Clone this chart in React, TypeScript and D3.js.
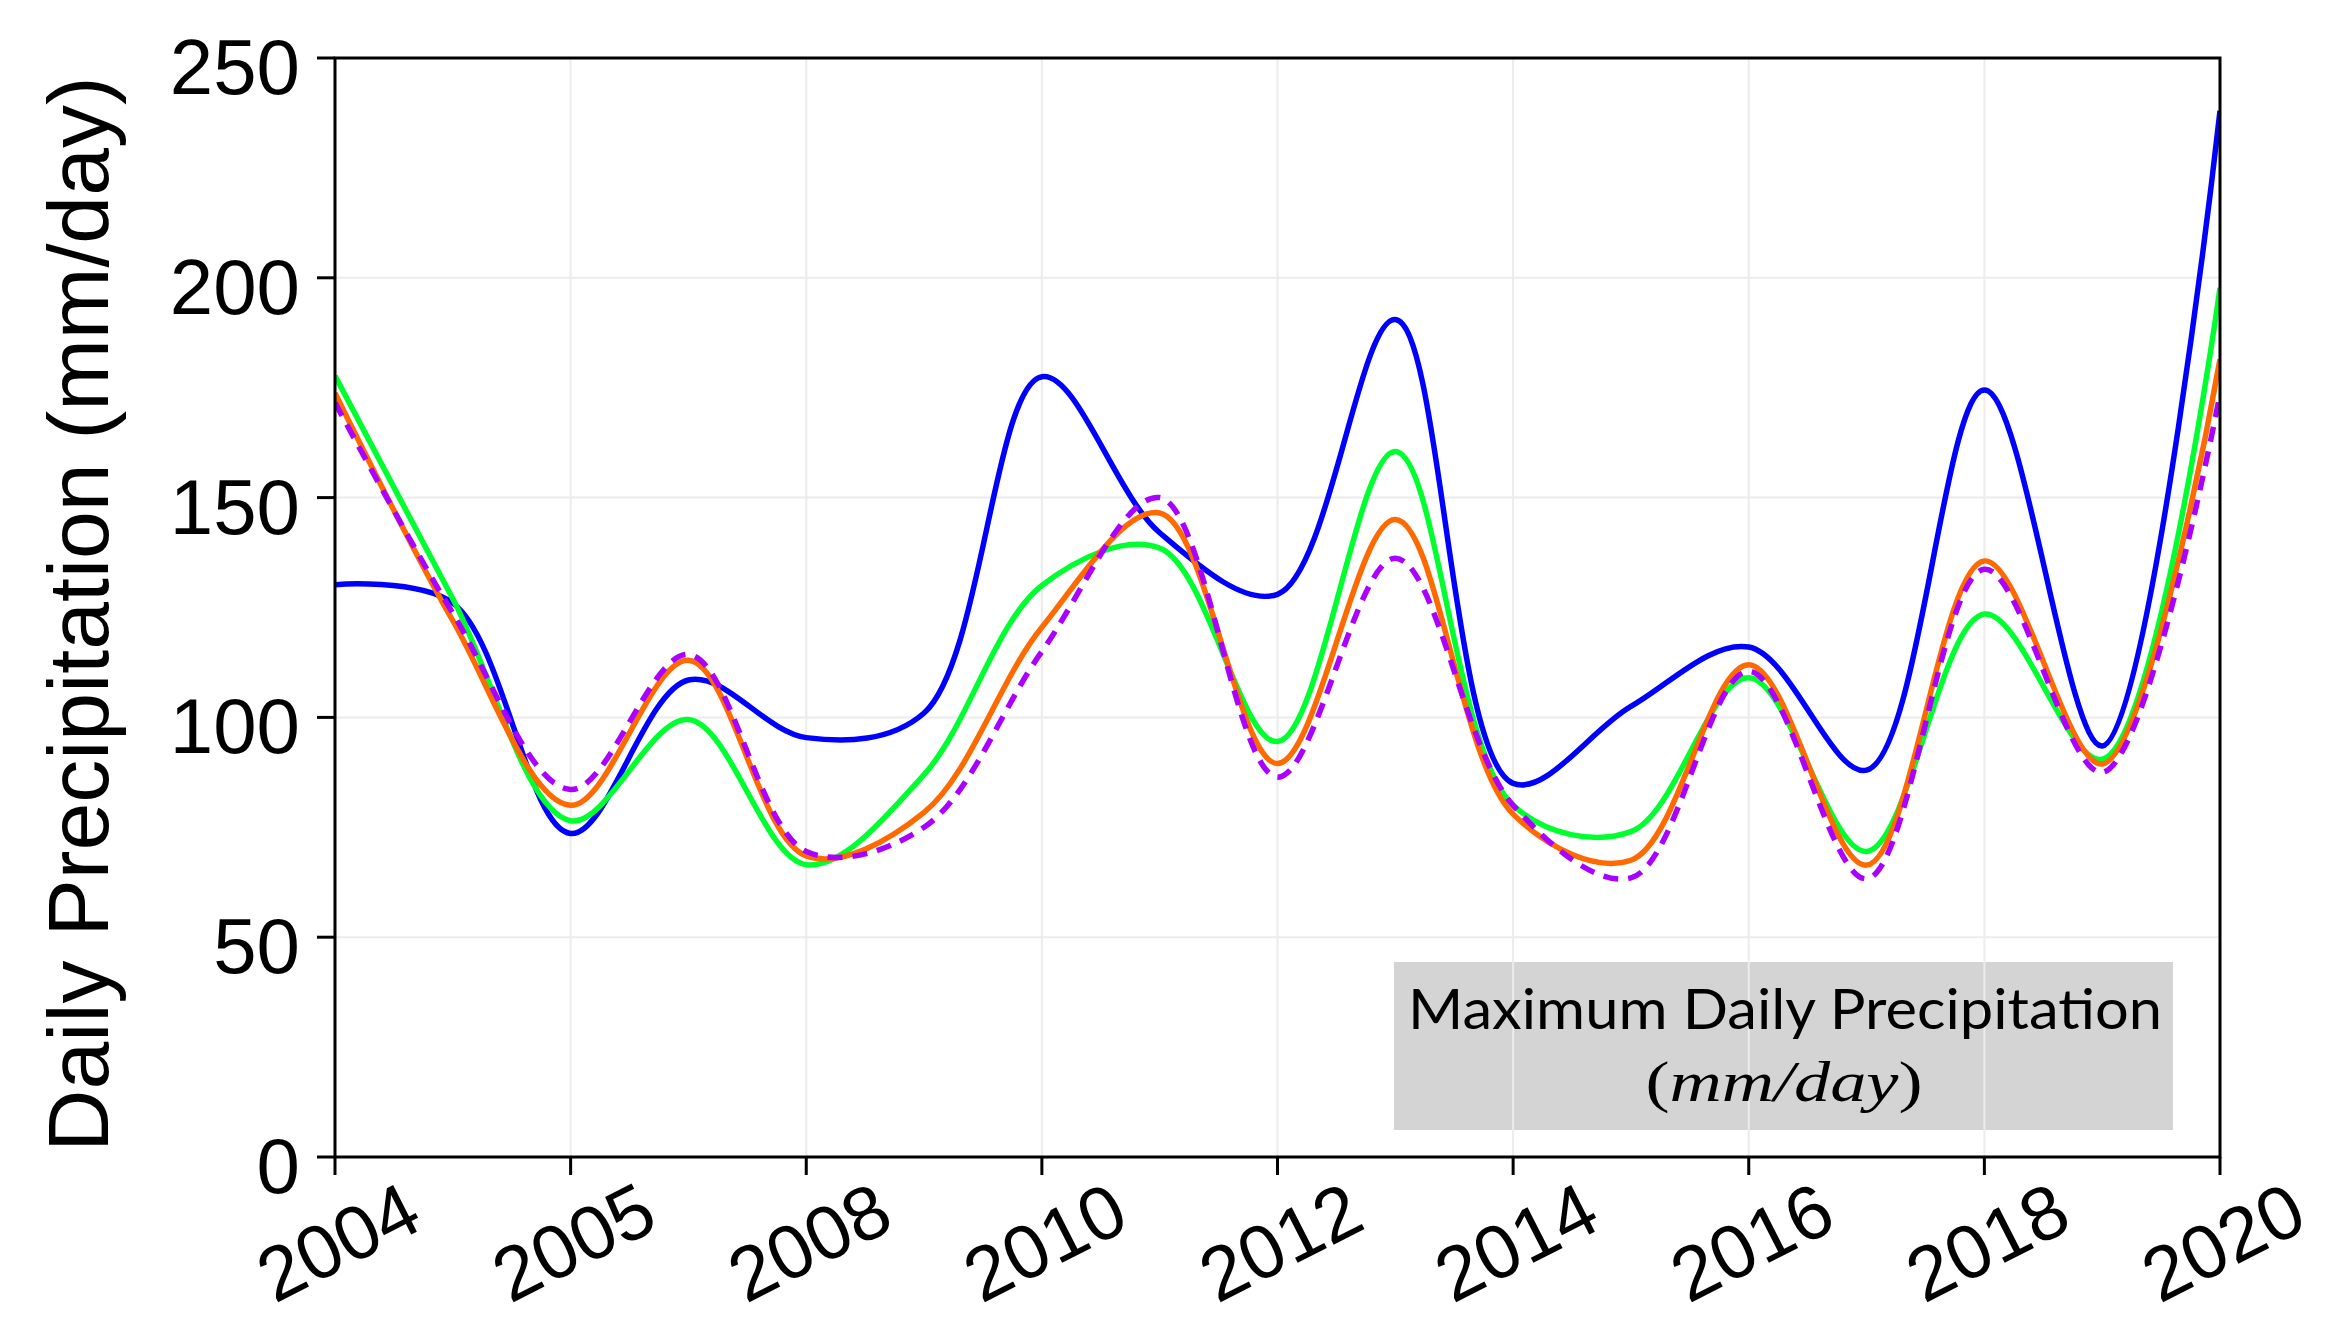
import React from "react";
import * as d3 from "d3";

// ---- data ----
const pointIndex = [0, 1, 2, 3, 4, 5, 6, 7, 8, 9, 10, 11, 12, 13, 14, 15, 16];
const tickIndex = [0, 2, 4, 6, 8, 10, 12, 14, 16];
const tickLabels = ["2004", "2005", "2008", "2010", "2012", "2014", "2016", "2018", "2020"];
const yTicks = [0, 50, 100, 150, 200, 250];

const blueSeries = [130.2, 126, 73.6, 108.5, 95.4, 101, 177.5, 142, 128, 190.5, 85, 102.5, 116, 88, 174.5, 93.5, 238];
const greenSeries = [177.7, 127, 76.5, 99.5, 66.5, 87, 130, 138.5, 94.5, 160.5, 80, 74, 109, 69.5, 123.5, 90.5, 197.7];
const orangeSeries = [173.8, 122, 80, 113, 68.5, 78.4, 120.5, 146.5, 89.5, 145, 78, 67.5, 112, 66.4, 135.6, 89.4, 181.5];
const purpleSeries = [171.6, 123.7, 83.6, 114.3, 69.5, 75, 115, 150, 86.4, 136.2, 80, 63.5, 110.5, 63.3, 133.7, 87.5, 173.5];

const series = [
  { name: "blue", values: blueSeries, color: "#0000ff", dash: null },
  { name: "green", values: greenSeries, color: "#00ff2e", dash: null },
  { name: "orange", values: orangeSeries, color: "#ff6a00", dash: null },
  { name: "purple", values: purpleSeries, color: "#aa00ff", dash: "15,10" },
];

const W = 2348;
const H = 1332;
const left = 335;
const right = 2220;
const top = 58;
const bottom = 1157;

export default function App() {
  const x = d3.scaleLinear().domain([0, 16]).range([left, right]);
  const y = d3.scaleLinear().domain([0, 250]).range([bottom, top]);
  const line = (vals: number[]) =>
    d3
      .line<number>()
      .x((_, i) => x(pointIndex[i]))
      .y((d) => y(d))
      .curve(d3.curveCatmullRom.alpha(0.5))(vals) || "";

  const font = "'Liberation Sans', Arial, sans-serif";

  return (
    <svg
      width={W}
      height={H}
      style={{ position: "absolute", left: 0, top: 0, background: "#fff" }}
    >
      <rect x={0} y={0} width={W} height={H} fill="#fff" />
      {/* annotation box */}
      <rect x={1394} y={962} width={779} height={168} fill="#d4d4d4" />
      {/* grid */}
      {yTicks.map((t) => (
        <line key={"gy" + t} x1={left} x2={right} y1={y(t)} y2={y(t)} stroke="#ececec" strokeWidth={2} />
      ))}
      {tickIndex.map((t) => (
        <line key={"gx" + t} x1={x(t)} x2={x(t)} y1={top} y2={bottom} stroke="#ececec" strokeWidth={2} />
      ))}
      {/* annotation text */}
      <text
        x={1785}
        y={1029}
        textAnchor="middle"
        fontFamily="Lato, 'Open Sans', sans-serif"
        fontSize={57}
        textLength={754}
        lengthAdjust="spacingAndGlyphs"
        fill="#000"
      >
        Maximum Daily Precipitation
      </text>
      <text
        x={1784}
        y={1101}
        textAnchor="middle"
        fontFamily="'Liberation Serif', 'DejaVu Serif', serif"
        fontSize={56}
        textLength={277}
        lengthAdjust="spacingAndGlyphs"
        fill="#000"
      >
        <tspan>(</tspan>
        <tspan fontStyle="italic">mm/day</tspan>
        <tspan>)</tspan>
      </text>
      {/* series */}
      <defs>
        <clipPath id="plotclip">
          <rect x={left} y={top - 5} width={right - left} height={bottom - top + 5} />
        </clipPath>
      </defs>
      <g clipPath="url(#plotclip)">
        {series.map((s) => (
          <path
            key={s.name}
            d={line(s.values)}
            fill="none"
            stroke={s.color}
            strokeWidth={5.5}
            strokeDasharray={s.dash || undefined}
            strokeLinejoin="round"
          />
        ))}
      </g>
      {/* frame */}
      <rect x={left} y={top} width={right - left} height={bottom - top} fill="none" stroke="#000" strokeWidth={3} />
      {/* y ticks */}
      {yTicks.map((t) => (
        <g key={"yt" + t}>
          <line x1={left - 18} x2={left} y1={y(t)} y2={y(t)} stroke="#000" strokeWidth={3} />
          <text x={300} y={y(t) + 36} textAnchor="end" fontFamily={font} fontSize={78} fill="#000">
            {t}
          </text>
        </g>
      ))}
      {/* x ticks */}
      {tickIndex.map((t, i) => (
        <g key={"xt" + t}>
          <line x1={x(t)} x2={x(t)} y1={bottom} y2={bottom + 18} stroke="#000" strokeWidth={3} />
          <text
            transform={`translate(${x(t) + 3},${1242}) rotate(-27)`}
            textAnchor="middle"
            dominantBaseline="central"
            fontFamily={font}
            fontSize={76}
            fill="#000"
          >
            {tickLabels[i]}
          </text>
        </g>
      ))}
      {/* y title */}
      <text
        transform={`translate(108,614) rotate(-90)`}
        textAnchor="middle"
        fontFamily={font}
        fontSize={86}
        fill="#000"
      >
        Daily Precipitation (mm/day)
      </text>
    </svg>
  );
}
